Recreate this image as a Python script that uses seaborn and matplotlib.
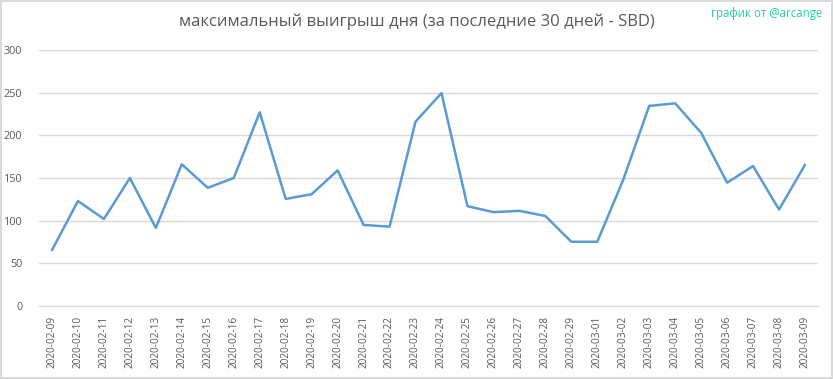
import numpy as np
import pandas as pd
import matplotlib
matplotlib.use('Agg')
import matplotlib.pyplot as plt
import seaborn as sns

# データ
dates = ['2020-02-09', '2020-02-10', '2020-02-11', '2020-02-12', '2020-02-13',
         '2020-02-14', '2020-02-15', '2020-02-16', '2020-02-17', '2020-02-18',
         '2020-02-19', '2020-02-20', '2020-02-21', '2020-02-22', '2020-02-23',
         '2020-02-24', '2020-02-25', '2020-02-26', '2020-02-27', '2020-02-28',
         '2020-02-29', '2020-03-01', '2020-03-02', '2020-03-03', '2020-03-04',
         '2020-03-05', '2020-03-06', '2020-03-07', '2020-03-08', '2020-03-09']
max_win = [65.5, 123, 102, 150, 91.5, 166, 138.5, 150, 227, 125.5,
           131, 159, 95, 93, 216, 249.5, 117, 110, 111.5, 105.5,
           75.3, 75.3, 148, 234.5, 237.5, 203, 144.5, 164, 113, 165.5]
y_ticks = [0, 50, 100, 150, 200, 250, 300]

title = 'максимальный выигрыш дня (за последние 30 дней - SBD)'
credit = 'график от @arcange'

sns.set_style('white')
plt.rcParams['font.family'] = ['Open Sans', 'DejaVu Sans']

df = pd.DataFrame({'idx': np.arange(len(dates)), 'date': dates, 'value': max_win})

fig = plt.figure(figsize=(8.33, 3.79), dpi=100)
fig.patch.set_edgecolor('#d9d9d9')
fig.patch.set_linewidth(1.5)
ax = fig.add_axes([39 / 833, 1 - 306 / 379, (818 - 39) / 833, (306 - 50) / 379])

sns.lineplot(data=df, x='idx', y='value', ax=ax, color='#5b9bd5', linewidth=1.8)

ax.set_xlim(-0.5, len(dates) - 0.5)
ax.set_ylim(0, 300)
ax.set_yticks(y_ticks)
ax.set_xticks(df['idx'])
ax.set_xticklabels(dates, rotation=90, fontsize=7.2, color='#595959')
ax.tick_params(axis='y', labelsize=7.8, labelcolor='#595959', length=0, pad=12)
ax.tick_params(axis='x', length=0, pad=7)
ax.set_xlabel('')
ax.set_ylabel('')
ax.grid(axis='y', color='#d9d9d9', linewidth=1)
ax.set_axisbelow(True)
for side in ['top', 'right', 'left']:
    ax.spines[side].set_visible(False)
ax.spines['bottom'].set_color('#d9d9d9')

fig.text(0.5, 1 - 22 / 379, title, ha='center', va='center', fontsize=12, color='#595959')
fig.text(822 / 833, 1 - 13 / 379, credit, ha='right', va='center', fontsize=8.3, color='#1fd3a0')

fig.savefig('out.png', dpi=100)
